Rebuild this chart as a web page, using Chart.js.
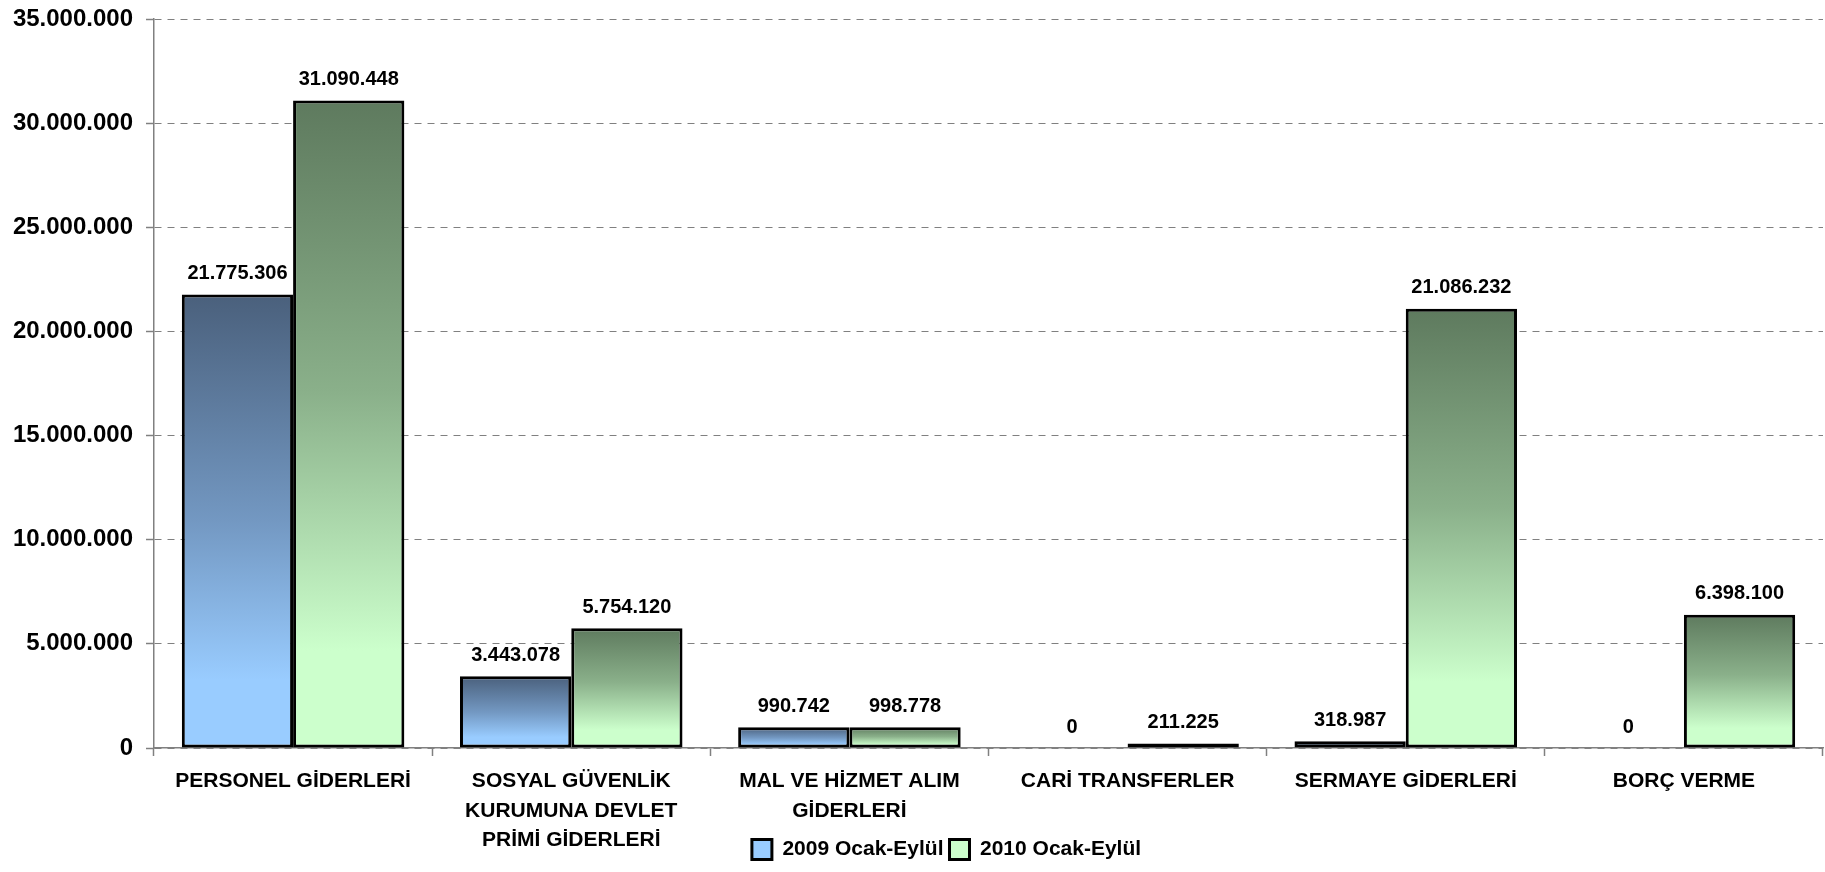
<!DOCTYPE html>
<html>
<head>
<meta charset="utf-8">
<script src="https://cdn.jsdelivr.net/npm/chart.js@4/dist/chart.umd.min.js"></script>
<style>
  html, body { margin: 0; padding: 0; background: #ffffff; }
  #wrap { width: 1825px; height: 872px; }
</style>
</head>
<body>
<div id="wrap"><canvas id="chart" width="1825" height="872"></canvas></div>
<script>
// ---------------------------------------------------------
// DATA
// ---------------------------------------------------------
const categories = [
  ["PERSONEL GİDERLERİ"],
  ["SOSYAL GÜVENLİK", "KURUMUNA DEVLET", "PRİMİ GİDERLERİ"],
  ["MAL VE HİZMET ALIM", "GİDERLERİ"],
  ["CARİ TRANSFERLER"],
  ["SERMAYE GİDERLERİ"],
  ["BORÇ VERME"]
];
const values2009 = [21775306, 3443078, 990742, 0, 318987, 0];
const values2010 = [31090448, 5754120, 998778, 211225, 21086232, 6398100];
const seriesNames = ["2009 Ocak-Eylül", "2010 Ocak-Eylül"];
const yTicks = [0, 5000000, 10000000, 15000000, 20000000, 25000000, 30000000, 35000000];

// gradient stops (top -> bottom) for each series
const BLUE_STOPS = [[0, "#4a607c"], [0.5, "#7398c2"], [0.85, "#99ccff"], [1, "#99ccff"]];
const GREEN_STOPS = [[0, "#5e7a5e"], [0.45, "#8ab08a"], [0.85, "#ccffcc"], [1, "#ccffcc"]];

const FONT = "'Liberation Sans', Arial, sans-serif";

// HELPER: 21775306 -> "21.775.306"
function formatNumber(n) {
  return String(Math.round(n)).replace(/\B(?=(\d{3})+(?!\d))/g, ".");
}

// bar fill: gradient over the height of each bar
function barGradient(stops) {
  return function (context) {
    const chart = context.chart;
    if (!chart.chartArea) return stops[1][1];
    if (context.type !== "data") {
      // legend box: small gradient of its own
      const lg = chart.ctx.createLinearGradient(0, 839, 0, 859);
      stops.forEach(function (s) { lg.addColorStop(s[0], s[1]); });
      return lg;
    }
    const y = chart.scales.y;
    const top = y.getPixelForValue(context.raw);
    const bottom = y.getPixelForValue(0);
    if (bottom - top < 1) return stops[0][1];
    const g = chart.ctx.createLinearGradient(0, top, 0, bottom);
    stops.forEach(function (s) { g.addColorStop(s[0], s[1]); });
    return g;
  };
}

// value labels above every bar
const valueLabels = {
  id: "valueLabels",
  afterDatasetsDraw(chart) {
    const c = chart.ctx;
    c.save();
    c.font = "bold 20px " + FONT;
    c.fillStyle = "#000000";
    c.textAlign = "center";
    c.textBaseline = "middle";
    chart.data.datasets.forEach(function (ds, i) {
      chart.getDatasetMeta(i).data.forEach(function (bar, j) {
        c.fillText(formatNumber(ds.data[j]), bar.x, bar.y - 21);
      });
    });
    c.restore();
  }
};

// the legend sits beside the last line of the axis labels,
// so move it up (and a bit right) once the layout is done
const legendPlace = {
  id: "legendPlace",
  afterLayout(chart) {
    const lg = chart.legend;
    if (!lg) return;
    lg.top = 833;
    lg.bottom = 872;
    lg.height = lg.bottom - lg.top;
    lg.left += 35;
    lg.right += 35;
  }
};

new Chart(document.getElementById("chart"), {
  type: "bar",
  data: {
    labels: categories,
    datasets: [
      {
        label: seriesNames[0],
        data: values2009,
        backgroundColor: barGradient(BLUE_STOPS),
        borderColor: "#000000",
        borderWidth: 3,
        borderSkipped: false
      },
      {
        label: seriesNames[1],
        data: values2010,
        backgroundColor: barGradient(GREEN_STOPS),
        borderColor: "#000000",
        borderWidth: 3,
        borderSkipped: false
      }
    ]
  },
  options: {
    responsive: false,
    animation: false,
    layout: { padding: { top: 19, right: 2, bottom: 0, left: 0 } },
    datasets: {
      bar: { categoryPercentage: 0.8, barPercentage: 1.0 }
    },
    scales: {
      x: {
        offset: true,
        grid: {
          offset: true,
          drawOnChartArea: false,
          drawTicks: true,
          tickLength: 8,
          tickColor: "#808080",
          tickWidth: 1.5
        },
        border: { color: "#808080", width: 1.5 },
        ticks: {
          color: "#000000",
          font: { family: FONT, size: 21, weight: "bold", lineHeight: 1.42 },
          padding: 10,
          maxRotation: 0,
          autoSkip: false
        },
        afterFit(scale) { scale.height = 108; }
      },
      y: {
        min: 0,
        max: 35000000,
        afterBuildTicks(scale) {
          scale.ticks = yTicks.map(function (v) { return { value: v }; });
        },
        grid: {
          color: "#808080",
          lineWidth: 1,
          tickLength: 8,
          tickColor: "#808080",
          tickBorderDash: [],
          tickWidth: 1.5
        },
        border: { color: "#808080", width: 1.5, dash: [7, 6] },
        ticks: {
          color: "#000000",
          font: { family: FONT, size: 24, weight: "bold" },
          padding: 13,
          callback: function (v) { return formatNumber(v); }
        },
        afterFit(scale) {
          scale.width = 154;
          scale.paddingTop = 0;
          scale.paddingBottom = 0;
        }
      }
    },
    plugins: {
      tooltip: { enabled: false },
      legend: {
        position: "bottom",
        maxHeight: 16,
        labels: {
          color: "#000000",
          font: { family: FONT, size: 21, weight: "bold" },
          boxWidth: 20,
          boxHeight: 20,
          padding: 6
        }
      }
    }
  },
  plugins: [valueLabels, legendPlace]
});
</script>
</body>
</html>
